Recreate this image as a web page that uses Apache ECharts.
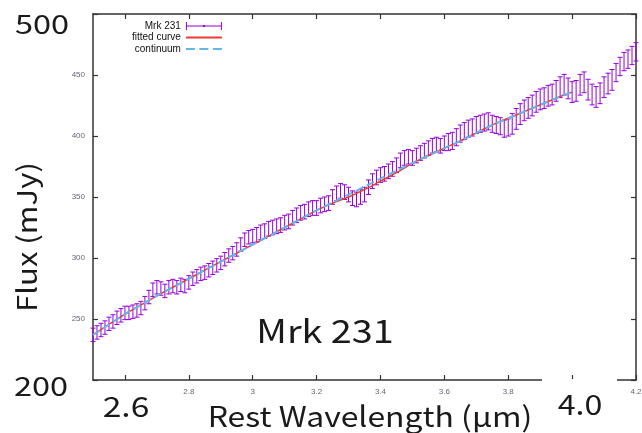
<!DOCTYPE html>
<html><head><meta charset="utf-8">
<script src="https://cdn.jsdelivr.net/npm/echarts@6/dist/echarts.min.js"></script>
<style>html,body{margin:0;padding:0;background:#fff}#c{width:642px;height:433px}</style>
</head><body><div id="c"></div>
<script>
// Observed wavelengths (µm)
const wavelengths = [
 2.5,2.5125,2.525,2.5375,2.55,2.5625,2.575,2.5875,2.6,2.6125,2.625,2.6375,2.65,2.6625,2.675,2.6875,
 2.7,2.7125,2.725,2.7375,2.75,2.7625,2.775,2.7875,2.8,2.8125,2.825,2.8375,2.85,2.8625,2.875,2.8875,
 2.9,2.9125,2.925,2.9375,2.95,2.9625,2.975,2.9875,3.0,3.0125,3.025,3.0375,3.05,3.0625,3.075,3.0875,
 3.1,3.1125,3.125,3.1375,3.15,3.1625,3.175,3.1875,3.2,3.2125,3.225,3.2375,3.25,3.2625,3.275,3.2875,
 3.3,3.3125,3.325,3.3375,3.35,3.3625,3.375,3.3875,3.4,3.4125,3.425,3.4375,3.45,3.4625,3.475,3.4875,
 3.5,3.5125,3.525,3.5375,3.55,3.5625,3.575,3.5875,3.6,3.6125,3.625,3.6375,3.65,3.6625,3.675,3.6875,
 3.7,3.7125,3.725,3.7375,3.75,3.7625,3.775,3.7875,3.8,3.8125,3.825,3.8375,3.85,3.8625,3.875,3.8875,
 3.9,3.9125,3.925,3.9375,3.95,3.9625,3.975,3.9875,4.0,4.0125,4.025,4.0375,4.05,4.0625,4.075,4.0875,
 4.1,4.1125,4.125,4.1375,4.15,4.1625,4.175,4.1875,4.2
];
// Mrk 231 flux (mJy)
const flux = [
 237,239,241,243,246, 248,251,253,255, 255,256,257,259, 263,268, 274,276,275, 273,276,277,276,
 278,277,280, 283,285,287,288, 290,292,294,296, 299,302,304,307, 311,315,317,318, 319,321,322,324,
 325,326,327,329, 330,333,335,337, 338,340,341,341, 343,344,345, 350,353,355,354, 352,349,348,350,352,
 358,363,366,368, 369,371,373,376, 380,382,383,382, 384,386,388,390, 392,393,392,394, 395,396,399,402,
 404,406,407,409, 410,411,412,410,409, 408,406,407,410,414, 418,421,423,425, 428,430,431,433,
 434,437,440,442, 439,436,437, 442,444,438, 434,432,435, 440,443,446, 452,457,461,463, 466,469
];
// Flux uncertainty (mJy)
const fluxErr = [
 5.5,5.5,5.5,5.5,5.5,5.5,5.5,5.5,5.5,5.5,5.5,5.5,5.5,5.5,5.5,5.5,5.5,5.5,5.5,5.5,
 5.5,5.5,5.5,5.5,5.5,5.5,5.5,5.5,5.5,5.5,5.5,5.5,5.5,5.5,5.5,5.5,5.5,5.5,5.5,5.5,5.5,
 6,6,6,6,6,6,6,6,6,6,6,6,6,6,6,6,6,6,6,6,6,6,6,6,
 6,6,6,6,6,6,6,6,6,6,6,6,6,6,6,6,6,6,6,6,6,6,6,6,
 7,7,7,7,7,7,7,7,7,7,7,7,7,7,7,7,
 8.5,8.5,8.5,8.5,8.5,8.5,8.5,8.5,8.5,8.5,8.5,8.5,8.5,
 8.5,8.5,8.5,8.5,8.5,8.5,8.5,8.5,8.5,8.5,8.5,8.5,8.5,
 7.5,7.5,7.5,7.5,7.5,7.5
];
// Model grid
const modelWavelengths = [2.5,2.55,2.6,2.65,2.7,2.75,2.8,2.85,2.9,2.95,3.0,3.05,3.1,3.15,3.2,3.25,
 3.3,3.35,3.4,3.45,3.5,3.55,3.6,3.65,3.7,3.75,3.8,3.85,3.9,3.95,4.0];
const continuum = [237,245.5,254,261.5,269,276,283,290,297,304,311,318,325,332,339,345.5,
 352,358.5,365,371.5,378,384,390,396,402.5,409,414.5,420,425.5,431,436];
const fittedCurve = [237,245.5,254,261.5,269,276,283,290,297,304,311,318,325,332,339,345,
 350,356,363,370,377.5,384,390,396,402.5,409,414.5,420,425.5,431,436];
// Ticks
const xTickValues = [2.6,2.8,3.0,3.2,3.4,3.6,3.8,4.0,4.2];
const xLabelValues = [2.8,3.0,3.2,3.4,3.6,3.8,4.2];
const yLabelValues = [250,300,350,400,450];

const PURPLE = '#9400d3', RED = '#ee3a32', BLUE = '#62b6e8';
const AXIS = '#333';
const bigFont = '"Noto Sans CJK JP","Noto Sans",sans-serif';

const errData = wavelengths.map((w, i) => [w, flux[i] - fluxErr[i], flux[i] + fluxErr[i], flux[i]]);

const chart = echarts.init(document.getElementById('c'), null, {renderer: 'canvas'});
const axisCommon = {
  type: 'value', min: 2.5, max: 4.2,
  axisLine: {show: true, lineStyle: {color: AXIS, width: 1.5}},
  axisTick: {show: true, inside: true, length: 5, customValues: xTickValues, lineStyle: {color: AXIS, width: 1.2}},
  splitLine: {show: false}
};
const yCommon = {
  type: 'value', min: 200, max: 500, interval: 50,
  axisLine: {show: true, lineStyle: {color: AXIS, width: 1.5}},
  axisTick: {show: true, inside: true, length: 5, lineStyle: {color: AXIS, width: 1.2}},
  splitLine: {show: false}
};
function bigText(text, x, y, size, sx, extra) {
  return Object.assign({type: 'text', x: x, y: y, z: 60, scaleX: sx,
    style: {text: text, font: size + 'px ' + bigFont, fill: '#1a1a1a', align: 'center', verticalAlign: 'middle'}}, extra || {});
}
chart.setOption({
  animation: false,
  backgroundColor: '#fff',
  grid: {left: 93, right: 6, top: 14, bottom: 53, outerBoundsMode: 'none'},
  xAxis: [
    Object.assign({}, axisCommon, {position: 'bottom',
      axisLabel: {customValues: xLabelValues, fontSize: 8, color: '#667', margin: 8, fontFamily: 'Liberation Sans'}}),
    Object.assign({}, axisCommon, {position: 'top', axisLabel: {show: false}})
  ],
  yAxis: [
    Object.assign({}, yCommon, {position: 'left',
      axisLabel: {customValues: yLabelValues, fontSize: 8, color: '#667', margin: 8, fontFamily: 'Liberation Sans'}}),
    Object.assign({}, yCommon, {position: 'right', axisLabel: {show: false}})
  ],
  legend: {
    orient: 'vertical', align: 'right', left: 127, top: 16,
    itemWidth: 36, itemHeight: 8, itemGap: 1.5, selectedMode: false,
    textStyle: {fontSize: 10, color: '#111', fontFamily: 'Liberation Sans'},
    data: [
      {name: 'Mrk 231', icon: 'path://M0,0h1v8h-1z M0,3.5h36v1h-36z M35,0h1v8h-1z M17,3h2v2h-2z', itemStyle: {color: PURPLE}},
      {name: 'fitted curve', icon: 'path://M0,0h36v2h-36z', itemStyle: {color: RED}},
      {name: 'continuum', icon: 'path://M0,0h9v2h-9z M13.5,0h9v2h-9z M27,0h9v2h-9z', itemStyle: {color: BLUE}}
    ]
  },
  series: [
    {
      name: 'Mrk 231', type: 'custom', color: PURPLE, z: 2,
      data: errData, encode: {x: 0, y: [1, 2]},
      renderItem: function (params, api) {
        const x = api.value(0);
        const pLo = api.coord([x, api.value(1)]);
        const pHi = api.coord([x, api.value(2)]);
        const cap = 2.5;
        const st = {stroke: PURPLE, lineWidth: 1, fill: null};
        return {type: 'group', children: [
          {type: 'line', shape: {x1: pLo[0], y1: pLo[1], x2: pHi[0], y2: pHi[1]}, style: st},
          {type: 'line', shape: {x1: pLo[0] - cap, y1: pLo[1], x2: pLo[0] + cap, y2: pLo[1]}, style: st},
          {type: 'line', shape: {x1: pHi[0] - cap, y1: pHi[1], x2: pHi[0] + cap, y2: pHi[1]}, style: st}
        ]};
      }
    },
    {
      name: 'fitted curve', type: 'line', color: RED, z: 3, symbol: 'none', smooth: 0.3,
      data: modelWavelengths.map((w, i) => [w, fittedCurve[i]]),
      lineStyle: {color: RED, width: 1.5}
    },
    {
      name: 'continuum', type: 'line', color: BLUE, z: 4, symbol: 'none', smooth: 0.3,
      data: modelWavelengths.map((w, i) => [w, continuum[i]]),
      lineStyle: {color: BLUE, width: 2, type: [8, 4]}
    }
  ],
  graphic: [
    {type: 'rect', left: 542, top: 379, shape: {width: 75, height: 54}, style: {fill: '#fff'}, z: 50},
    bigText('500', 42, 24, 26, 1.25),
    bigText('200', 41, 386, 26, 1.25),
    bigText('2.6', 126, 406, 28, 1.2),
    bigText('4.0', 580, 404, 28, 1.15),
    bigText('Rest Wavelength (μm)', 370, 416, 28, 1.14),
    bigText('Flux (mJy)', 27, 237, 27, 1.15, {rotation: Math.PI / 2}),
    bigText('Mrk 231', 325, 331, 32, 1.18)
  ]
});
</script>
</body></html>
